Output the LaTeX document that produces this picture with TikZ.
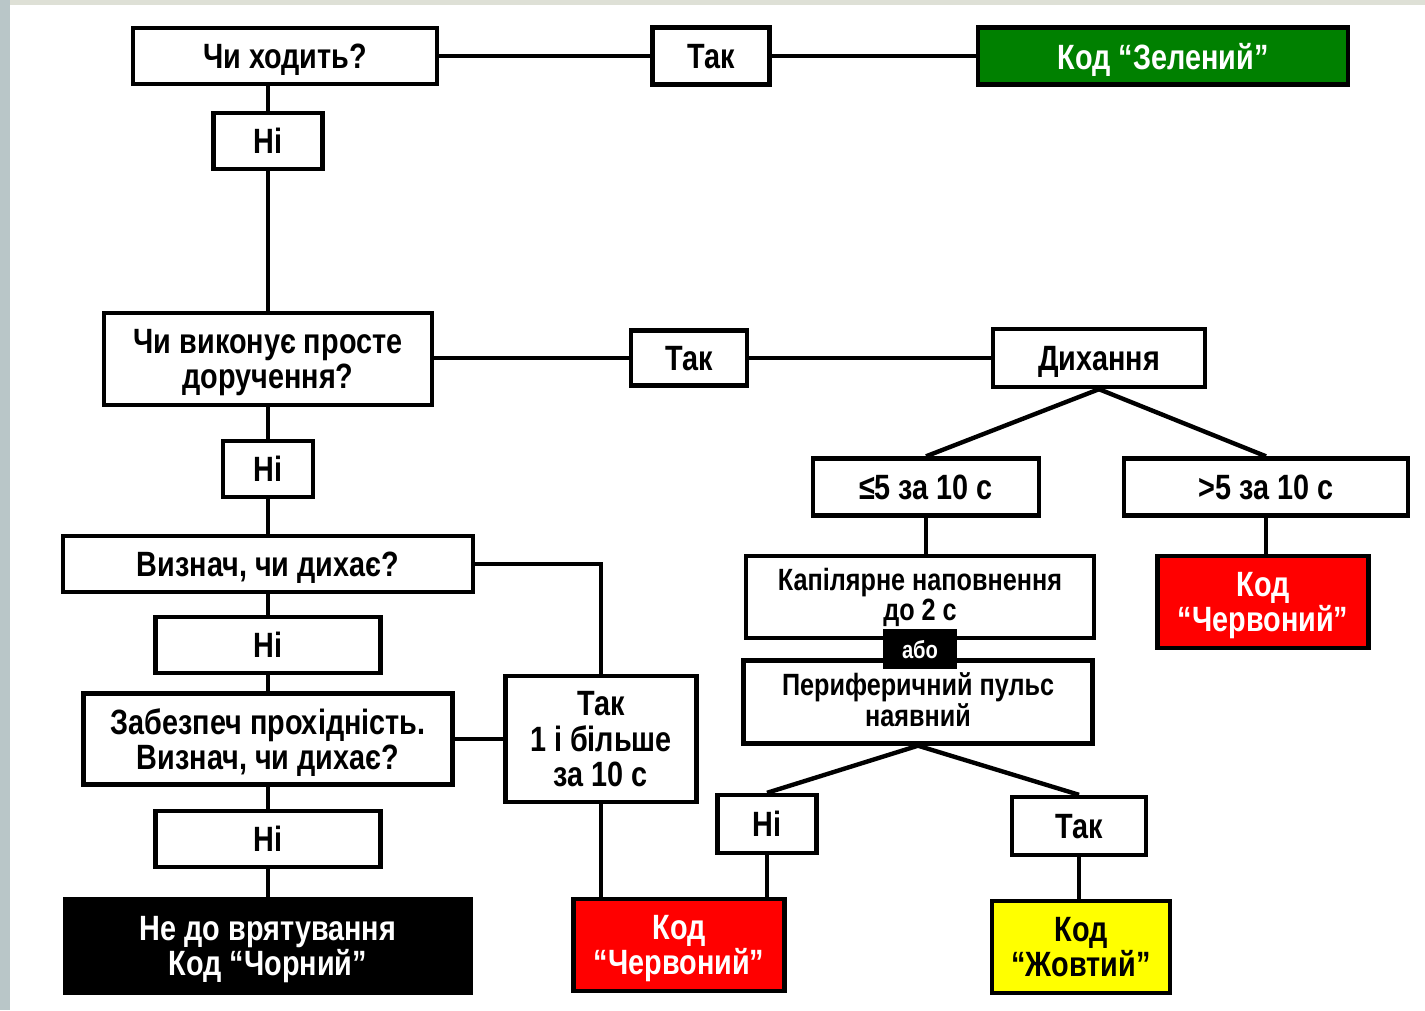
\documentclass[tikz,border=0pt]{standalone}
\usepackage{fontspec}
\setmainfont{Liberation Sans}[FakeStretch=0.82]
\definecolor{kgreen}{RGB}{0,128,0}
\definecolor{kred}{RGB}{255,0,0}
\definecolor{kyellow}{RGB}{255,255,0}
\definecolor{edgeL}{RGB}{185,198,200}
\definecolor{edgeT}{RGB}{222,224,214}
\begin{document}
\begin{tikzpicture}[x=0.02cm,y=-0.02cm,line cap=butt,line join=miter]
			\tikzset{box/.style={draw,line width=2.5pt,fill=white,align=center,inner sep=0pt,text depth=0pt,
					font=\bfseries\fontsize{20}{20}\selectfont},
				small/.style={text depth=3pt,font=\bfseries\fontsize{17.5}{17.5}\selectfont},
				wh/.style 2 args={minimum width=#1*0.02cm,minimum height=#2*0.02cm},
				link/.style={line width=2.5pt}}
			\useasboundingbox (0,0) rectangle (1425,1010);
			\fill[edgeT] (0,0) rectangle (1425,5);
			\fill[edgeL] (0,0) rectangle (10,1010);
			\node[box,wh={304}{56}] (walk) at (285,56) {Чи ходить?};
			\node[box,wh={117}{57}] (yes1) at (711,56) {Так};
			\node[box,wh={370}{57},fill=kgreen,text=white] (green) at (1163,56) {Код “Зелений”};
			\foreach \n/\y/\w in {no1/141/109,no2/469/90,no3/645/225,no4/839/225}{
					\node[box,wh={\w}{56}] (\n) at (268,\y) {Ні};}
			\node[box,wh={328}{92}] (task) at (268,359) {Чи виконує просте\\доручення?};
			\node[box,wh={116}{55}] (yes2) at (689,358) {Так};
			\node[box,wh={212}{58}] (breath) at (1099,358) {Дихання};
			\node[box,wh={410}{56}] (check) at (268,564) {Визнач, чи дихає?};
			\node[box,wh={369}{91}] (airway) at (268,739) {Забезпеч прохідність.\\Визнач, чи дихає?};
			\node[box,wh={191}{126}] (yes3) at (601,739) {Так\\1 і більше\\за 10 с};
			\node[box,wh={405}{94},fill=black,text=white] (black) at (268,946) {Не до врятування\\Код “Чорний”};
			\node[box,wh={211}{92},fill=kred,text=white] (redL) at (679,945) {Код\\“Червоний”};
			\node[box,wh={226}{57}] (le5) at (926,487) {≤5 за 10 с};
			\node[box,wh={284}{57}] (gt5) at (1266,487) {>5 за 10 с};
			\node[box,wh={211}{92},fill=kred,text=white] (redR) at (1263,602) {Код\\“Червоний”};
			\node[box,small,wh={348}{82}] (capil) at (920,597) {Капілярне наповнення\\до 2 с};
			\node[box,small,wh={349}{83}] (pulse) at (918,702) {Периферичний пульс\\наявний};
			\node[box,wh={69}{36},fill=black,text=white,font=\bfseries\fontsize{14}{14}\selectfont] (or) at (920,649) {або};
			\node[box,wh={99}{58}] (no5) at (767,824) {Ні};
			\node[box,wh={134}{58}] (yes5) at (1079,826) {Так};
			\node[box,wh={178}{92},fill=kyellow] (yellow) at (1081,947) {Код\\“Жовтий”};
			\draw[link] (walk) -- (yes1) -- (green);
			\draw[link] (no1) -- (no1 |- walk.south);
			\draw[link] (no1) -- (task) -- (no2) -- (check) -- (no3) -- (airway) -- (no4) -- (black);
			\draw[link] (task.east |- yes2) -- (yes2) -- (breath);
			\draw[link] (breath.south) -- (le5.north);
			\draw[link] (breath.south) -- (gt5.north);
			\draw[link] (check.east) -| (yes3.north);
			\draw[link] (airway) -- (yes3);
			\draw[link] (yes3.south) -- (yes3.south |- redL.north);
			\draw[link] (le5.south) -- (le5.south |- capil.north);
			\draw[link] (gt5.south) -- (gt5.south |- redR.north);
			\draw[link] (pulse.south) -- (no5.north);
			\draw[link] (pulse.south) -- (yes5.north);
			\draw[link] (no5.south) -- (no5.south |- redL.north);
			\draw[link] (yes5.south) -- (yes5.south |- yellow.north);
		\end{tikzpicture}
\end{document}
